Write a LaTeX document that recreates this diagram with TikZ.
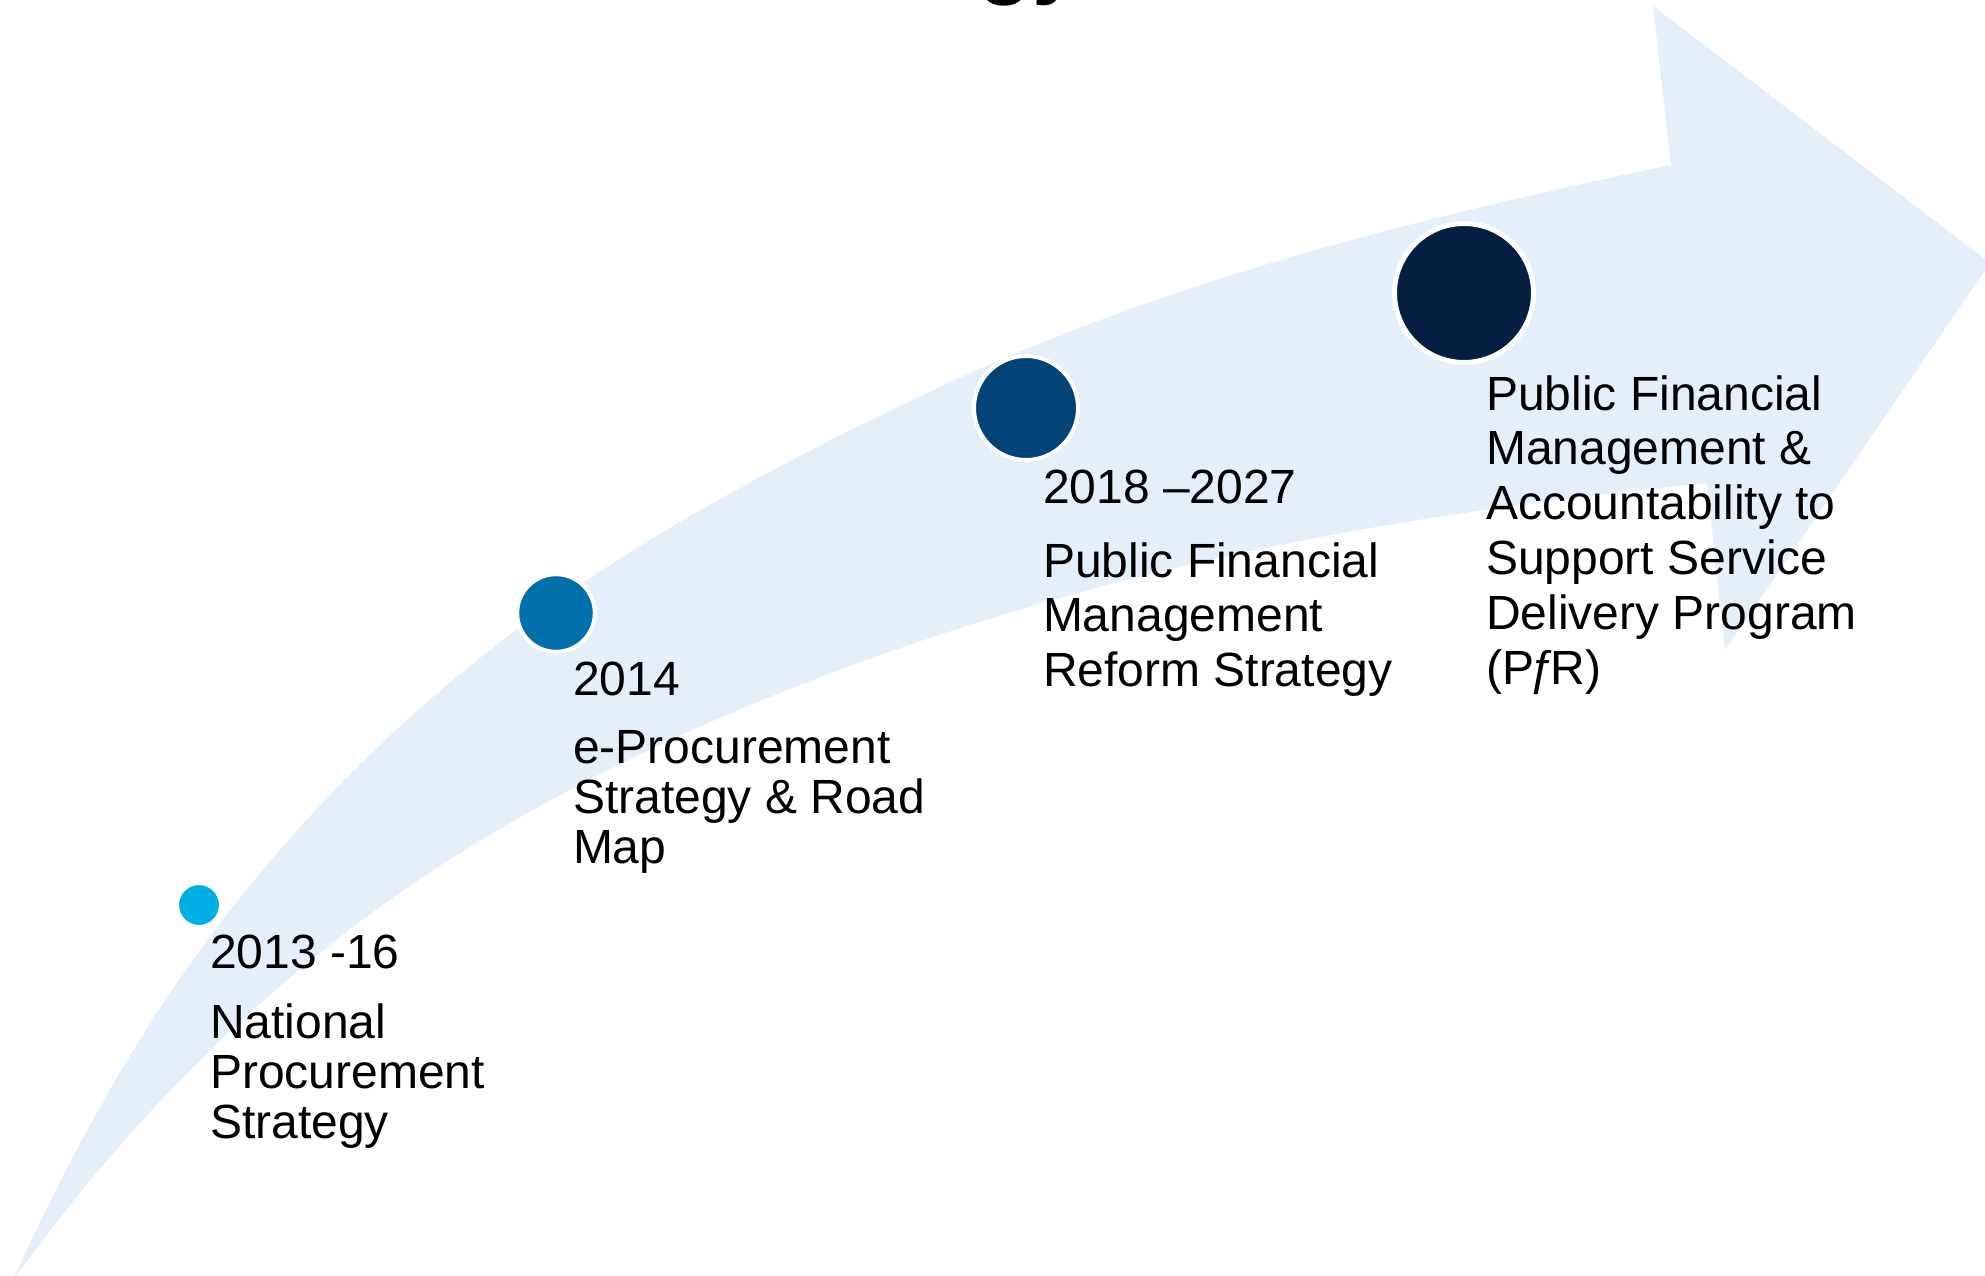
\documentclass[tikz,border=0pt]{standalone}
\usepackage{fontspec}
\setmainfont{Liberation Sans}
\definecolor{arrowfill}{RGB}{228,239,249}
\definecolor{dotA}{RGB}{0,173,228}
\definecolor{dotB}{RGB}{0,112,170}
\definecolor{dotC}{RGB}{2,68,120}
\definecolor{dotD}{RGB}{4,31,66}
\tikzset{
  dot/.style={circle, draw=white, inner sep=0pt, outer sep=0pt},
  datetxt/.style={anchor=base west, inner sep=0pt, outer sep=0pt, font=\fontsize{24}{25}\selectfont},
  desctight/.style={anchor=base west, inner sep=0pt, outer sep=0pt, font=\fontsize{24}{25}\selectfont},
  descwide/.style={anchor=base west, inner sep=0pt, outer sep=0pt, font=\fontsize{24}{27.4}\selectfont},
}
\begin{document}
\begin{tikzpicture}[x=0.5pt,y=-0.5pt]
\useasboundingbox (0,0) rectangle (1985,1275);
\fill[white] (0,0) rectangle (1985,1275);
\begin{scope}
\clip (0,0) rectangle (1985,1275);
% title fragment (cut off at the top edge)
\node[anchor=base west, inner sep=0pt, font=\fontsize{44}{50}\selectfont\bfseries] (title) at (978,-13) {gy};
% big curved arrow
\fill[arrowfill]
  (12,1282)
  .. controls (63,1170) and (121.5,1060) .. (193,960)
  .. controls (274,847) and (371,745) .. (480,658)
  .. controls (619,547) and (779,463) .. (940,387)
  .. controls (1171,279) and (1421,217) .. (1671,165)
  -- (1653,6) -- (1990,263) -- (1725,650) -- (1707,483)
  .. controls (1477,506) and (1246,542) .. (1025,608)
  .. controls (830.5,666) and (637.6,743) .. (465,850)
  .. controls (287,960) and (133,1112) .. (12,1282)
  -- cycle;
\end{scope}
% milestones
\node[dot, fill=dotA, line width=1.5pt, minimum size=21.5pt] (m1) at (199,905) {};
\node[dot, fill=dotB, line width=2pt, minimum size=38.8pt] (m2) at (556,613) {};
\node[dot, fill=dotC, line width=2pt, minimum size=52pt] (m3) at (1026,408) {};
\node[dot, fill=dotD, line width=2.5pt, minimum size=69.5pt] (m4) at (1464,293) {};
% texts
\node[datetxt] (y1) at (210,968) {2013 -16};
\node[desctight] (t1) at (210,1038) {\vtop{\hbox{National}\hbox{Procurement}\hbox{Strategy}}};
\node[datetxt] (y2) at (573,695) {2014};
\node[desctight] (t2) at (573,763) {\vtop{\hbox{e-Procurement}\hbox{Strategy \& Road}\hbox{Map}}};
\node[datetxt] (y3) at (1043,503) {2018 –2027};
\node[descwide] (t3) at (1043,577) {\vtop{\hbox{Public Financial}\hbox{Management}\hbox{Reform Strategy}}};
\node[descwide] (t4) at (1486,410) {\vtop{\hbox{Public Financial}\hbox{Management \&}\hbox{Accountability to}\hbox{Support Service}\hbox{Delivery Program}\hbox{(P\kern-2.5ptƒ\kern-2.5ptR)}}};
\end{tikzpicture}
\end{document}
